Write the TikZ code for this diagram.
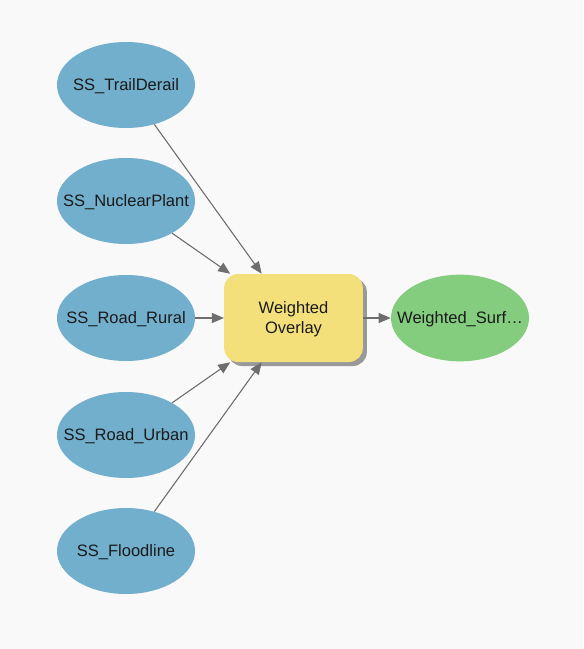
\documentclass[tikz,border=0pt]{standalone}
\usepackage{fontspec}
\setmainfont{Liberation Sans}
\usetikzlibrary{shapes.geometric,arrows.meta,shadows}
\definecolor{bgcol}{HTML}{F9F9F9}
\definecolor{inblue}{HTML}{71AFCD}
\definecolor{toolyel}{HTML}{F4E07A}
\definecolor{outgreen}{HTML}{84CC7E}
\definecolor{linkgray}{HTML}{6E6E6E}
\definecolor{txtcol}{HTML}{1A1A1A}
\newcommand{\elltext}[1]{\makebox[0pt]{#1}}

\begin{document}
\begin{tikzpicture}[x=0.75pt,y=-0.75pt]
\tikzstyle{every node}+=[inner sep=0pt, text depth=0pt, text=txtcol, font=\fontsize{12.4}{15}\selectfont]
\tikzstyle{indata}=[ellipse, fill=inblue, minimum width=103.5pt, minimum height=64.5pt]
\tikzstyle{outdata}=[ellipse, fill=outgreen, minimum width=103.5pt, minimum height=65pt]
\tikzstyle{tool}=[rectangle, rounded corners=10.5pt, fill=toolyel, minimum width=104pt, minimum height=66pt, align=center,
  drop shadow={shadow xshift=3pt, shadow yshift=-3pt, fill=black!40, opacity=1}]
\tikzstyle{link}=[draw=linkgray, line width=0.8pt, -{Triangle[length=9pt, width=7.5pt]}, fill=linkgray]
\fill [bgcol] (0,0) rectangle (583,649);
\useasboundingbox (0,0) rectangle (583,649);
% input layers
\node [indata] (trail) at (126,85) {\elltext{SS\_TrailDerail}};
\node [indata] (nuclear) at (126,201) {\elltext{SS\_NuclearPlant}};
\node [indata] (rural) at (126,318) {\elltext{SS\_Road\_Rural}};
\node [indata] (urban) at (126,435) {\elltext{SS\_Road\_Urban}};
\node [indata] (flood) at (126,551) {\elltext{SS\_Floodline}};
% tool and output
\node [tool] (overlay) at (293.5,318) {Weighted\\Overlay};
\node [outdata] (surface) at (460,318) {\elltext{Weighted\_Surf\ldots}};
% links
\draw [link] (trail) -- (overlay);
\draw [link] (nuclear) -- (overlay);
\draw [link] (rural) -- (overlay);
\draw [link] (urban) -- (overlay);
\draw [link] (flood) -- (overlay);
\draw [link] (overlay) -- (surface);
\end{tikzpicture}
\end{document}
